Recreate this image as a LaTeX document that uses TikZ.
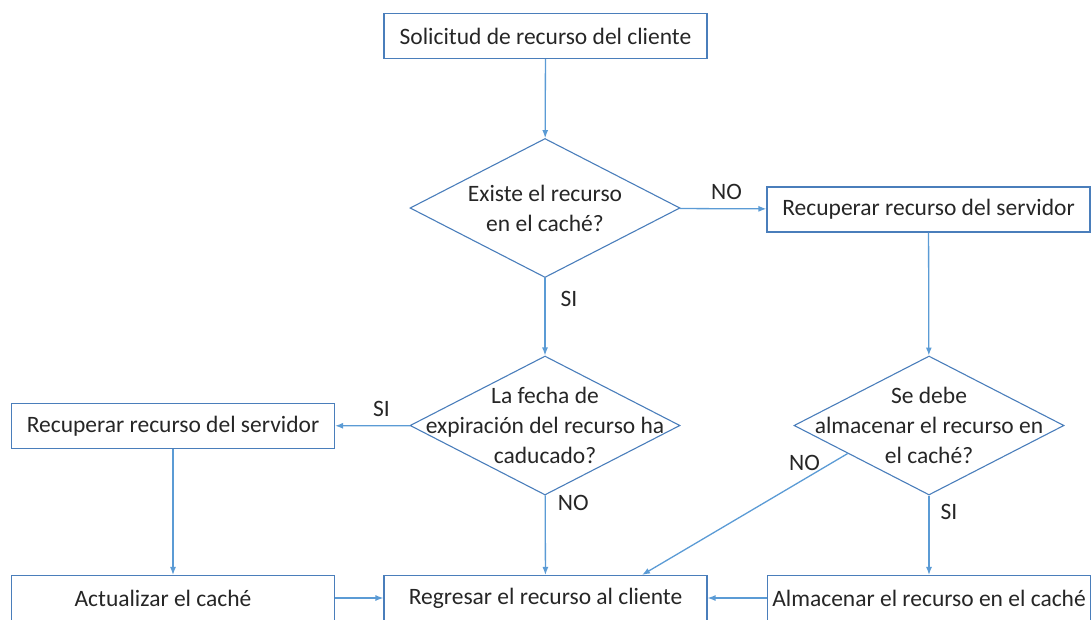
\documentclass[tikz,border=0pt]{standalone}
\usepackage{fontspec}
\setmainfont{Carlito}
\usetikzlibrary{arrows.meta, positioning, shapes.geometric, calc}
\definecolor{frame}{HTML}{4A7EBB}
\definecolor{link}{HTML}{5B9BD5}
\definecolor{ink}{HTML}{262626}

\begin{document}
\begin{tikzpicture}[
      x=1pt, y=-1pt,
      >={Latex[length=8pt,width=6pt]},
      font=\fontsize{23.5}{30}\selectfont, text=ink,
      box/.style={draw=frame, line width=1.1pt, minimum width=323pt,
                  minimum height=45pt, inner sep=0pt, align=center},
      decision/.style={diamond, draw=frame, line width=1.1pt,
                       minimum width=270pt, minimum height=139pt, inner sep=0pt},
      qtext/.style={align=center, inner sep=0pt},
      flow/.style={->, draw=link, line width=1.3pt},
      tag/.style={inner sep=0pt},
    ]
    \clip (0,0) rectangle (1091,619);

    \node[box] (req) at (545.5,36) {Solicitud de recurso del cliente};

    \node[decision] (exists) at (545,208) {};
    \node[qtext] (existsq) at (exists) {Existe el recurso\\en el caché?};

    \node[box] (fetchR) at (928.5,209.5) {Recuperar recurso del servidor};

    \node[decision] (expired) at (545,425.5) {};
    \node[qtext] (expiredq) at (expired) {La fecha de\\expiración del recurso ha\\caducado?};

    \node[decision] (store) at (929,425.5) {};
    \node[qtext] (storeq) at (store) {Se debe\\almacenar el recurso en\\el caché?};

    \node[box] (fetchL) at (173,426) {Recuperar recurso del servidor};

    \node[box] (update) at (173,598) {Actualizar el caché\hspace*{20pt}};
    \node[box] (reply)  at (545.5,598) {Regresar el recurso al cliente};
    \node[box] (save)   at (929,598) {Almacenar el recurso en el caché};

    \draw[flow] (req) -- (exists);
    \draw[flow] (exists) -- node[tag, pos=0.54, above=8pt] {NO} (fetchR);
    \draw[flow] (exists) -- node[tag, pos=0.27, anchor=west, xshift=15pt] {SI} (expired);
    \draw[flow] (fetchR) -- (store);
    \draw[flow] (expired) -- node[tag, pos=0.38, above=8pt] {SI} (fetchL);
    \draw[flow] (expired) -- node[tag, pos=0.1, anchor=west, xshift=12pt] {NO} (reply);
    \draw[flow] ($(store.west)!0.4!(store.south)$) -- node[tag, pos=0.21, yshift=16pt] {NO} ([xshift=96.5pt]reply.north);
    \draw[flow] (store) -- node[tag, pos=0.21, anchor=west, xshift=11pt] {SI} (save);
    \draw[flow] (fetchL) -- (update);
    \draw[flow] (update) -- (reply);
    \draw[flow] (save) -- (reply);
  \end{tikzpicture}
\end{document}
